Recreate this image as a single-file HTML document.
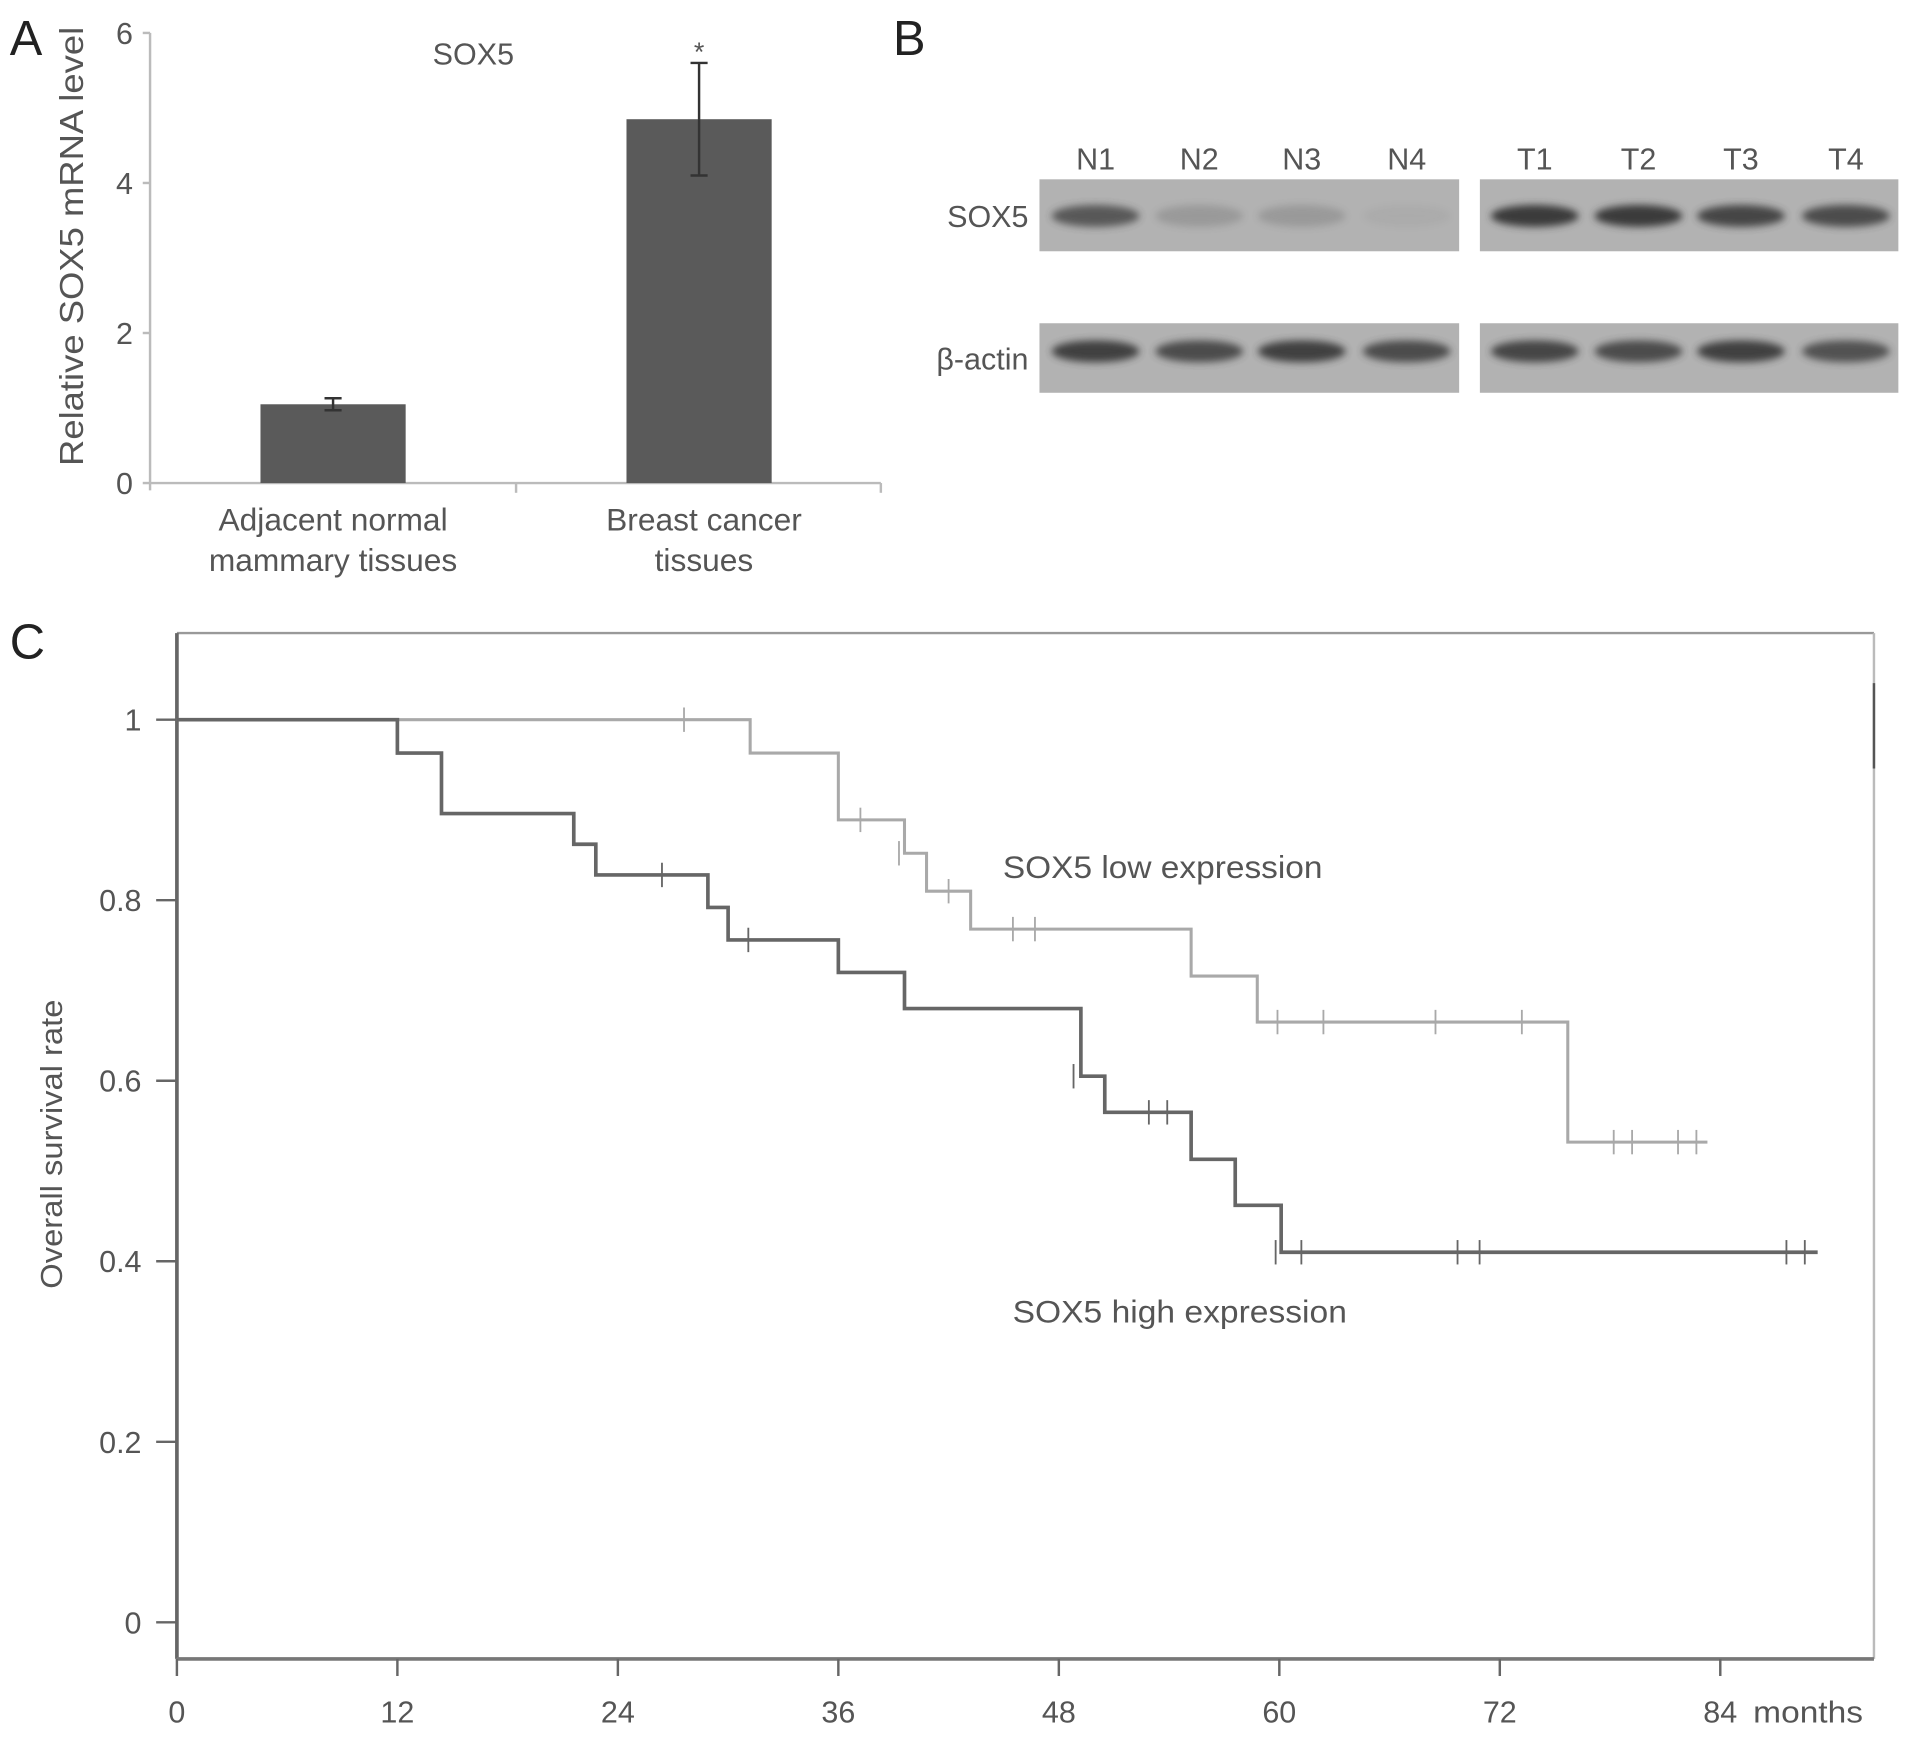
<!DOCTYPE html>
<html><head><meta charset="utf-8">
<style>
html,body{margin:0;padding:0;background:#fff;}
svg{display:block;}
text{font-family:"Liberation Sans",sans-serif;fill:#555;}
</style></head>
<body>
<svg id="fig" width="1913" height="1737" viewBox="0 0 1568 1424" preserveAspectRatio="none" xmlns="http://www.w3.org/2000/svg">
<defs>
<filter id="blur" x="-20%" y="-50%" width="140%" height="200%"><feGaussianBlur stdDeviation="3"/></filter>
</defs>
<g id="panelA"></g>
<g id="panelB"></g>
<g id="panelC"></g>
</svg>
<script>
// ---- Panel A data ----
const barCategories = [["Adjacent normal","mammary tissues"],["Breast cancer","tissues"]];
const barValues = [1.05, 4.85];
const barErrLow = [0.97, 4.1];
const barErrHigh = [1.13, 5.6];
const barYTicks = [0, 2, 4, 6];
// ---- Panel B data ----
const laneLabels = ["N1","N2","N3","N4","T1","T2","T3","T4"];
const sox5Intensity = [0.75, 0.2, 0.2, 0.05, 1, 1, 0.9, 0.85];
const actinIntensity = [0.95, 0.85, 0.95, 0.85, 0.9, 0.85, 0.95, 0.8];
// ---- Panel C data ----
const xTicks = [0, 12, 24, 36, 48, 60, 72, 84];
const yTicks = [0, 0.2, 0.4, 0.6, 0.8, 1];
const lowTimes = [0, 31.2, 36, 39.6, 40.8, 43.2, 55.2, 58.8, 75.7, 83.3];
const lowSurv  = [1, 0.963, 0.889, 0.852, 0.81, 0.768, 0.716, 0.665, 0.532, 0.532];
const lowCensT = [27.6, 37.2, 39.3, 42, 45.5, 46.7, 59.9, 62.4, 68.5, 73.2, 78.2, 79.2, 81.7, 82.7];
const lowCensS = [1, 0.889, 0.852, 0.81, 0.768, 0.768, 0.665, 0.665, 0.665, 0.665, 0.532, 0.532, 0.532, 0.532];
const highTimes = [0, 12, 14.4, 21.6, 22.8, 28.9, 30, 36, 39.6, 49.2, 50.5, 55.2, 57.6, 60.1, 89.3];
const highSurv  = [1, 0.963, 0.896, 0.862, 0.828, 0.792, 0.756, 0.72, 0.68, 0.605, 0.565, 0.513, 0.462, 0.41, 0.41];
const highCensT = [26.4, 31.1, 48.8, 52.9, 53.9, 59.8, 61.2, 69.7, 70.9, 87.6, 88.6];
const highCensS = [0.828, 0.756, 0.605, 0.565, 0.565, 0.41, 0.41, 0.41, 0.41, 0.41, 0.41];

const NS = "http://www.w3.org/2000/svg";
function mk(parent, tag, attrs, txt){
  const e = document.createElementNS(NS, tag);
  for (const k in attrs) e.setAttribute(k, attrs[k]);
  if (txt !== undefined) e.textContent = txt;
  parent.appendChild(e);
  return e;
}

// ===== Panel A =====
(function(){
  const g = document.getElementById('panelA');
  const x0 = 123, x1 = 722, yb = 396, yt = 27;
  const yA = v => yb - (v/6)*(yb-yt);
  let t = mk(g,'text',{x:8,y:45,'font-size':40,style:'fill:#222'},'A');
   
  let l = mk(g,'line',{x1:x0,y1:yt,x2:x0,y2:yb+6,stroke:'#bbb','stroke-width':2});
   
  l = mk(g,'line',{x1:x0,y1:yb,x2:x1,y2:yb,stroke:'#bbb','stroke-width':2});
   
  mk(g,'line',{x1:423,y1:yb,x2:423,y2:yb+8,stroke:'#bbb','stroke-width':2});
  mk(g,'line',{x1:x1,y1:yb,x2:x1,y2:yb+8,stroke:'#bbb','stroke-width':2});
  barYTicks.forEach(v=>{
    mk(g,'line',{x1:x0-6,y1:yA(v),x2:x0,y2:yA(v),stroke:'#bbb','stroke-width':2});
    const tt = mk(g,'text',{x:x0-14,y:yA(v)+9,'font-size':25,'text-anchor':'end'},String(v));
     
  });
  t = mk(g,'text',{x:0,y:0,'font-size':27,'text-anchor':'middle',textLength:360,lengthAdjust:'spacingAndGlyphs',transform:'translate(68,202) rotate(-90)'},'Relative SOX5 mRNA level');
   
  t = mk(g,'text',{x:388,y:53,'font-size':25,'text-anchor':'middle'},'SOX5');
   
  const centers = [273, 573], bw = 119;
  barValues.forEach((v,i)=>{
    const r = mk(g,'rect',{x:centers[i]-bw/2,y:yA(v),width:bw,height:yb-yA(v),fill:'#5a5a5a'});
     
    const e = mk(g,'path',{d:`M${centers[i]-7},${yA(barErrHigh[i])}H${centers[i]+7}M${centers[i]},${yA(barErrHigh[i])}V${yA(barErrLow[i])}M${centers[i]-7},${yA(barErrLow[i])}H${centers[i]+7}`,stroke:'#333','stroke-width':2,fill:'none'});
     
    barCategories[i].forEach((s,j)=>{
      const c = mk(g,'text',{x:centers[i]+(i?4:0),y:435+j*33,'font-size':26,'text-anchor':'middle'},s);
       
    });
  });
  t = mk(g,'text',{x:centers[1],y:50,'font-size':22,'text-anchor':'middle'},'*');
   
})();

// ===== Panel B =====
(function(){
  const g = document.getElementById('panelB');
  let t = mk(g,'text',{x:732,y:45,'font-size':40,style:'fill:#222'},'B');
   
  const boxes = [[852,1196],[1213,1556]];
  const rows = [[147,206,sox5Intensity],[265,322,actinIntensity]];
  const laneX = [898,983,1067,1153,1258,1343,1427,1513];
  rows.forEach((r,ri)=>{
    boxes.forEach(b=>{
      const bx = mk(g,'rect',{x:b[0],y:r[0],width:b[1]-b[0],height:r[1]-r[0],fill:'#b2b2b2'});
       
    });
    r[2].forEach((v,i)=>{
      const cy = ri ? 288 : 177;
      const e = mk(g,'ellipse',{cx:laneX[i],cy:cy,rx:36,ry:9,fill:'#3a3a3a',opacity:v,filter:'url(#blur)'});
       
    });
  });
  laneLabels.forEach((s,i)=>{
    const tt = mk(g,'text',{x:laneX[i],y:139,'font-size':25,'text-anchor':'middle'},s);
     
  });
  t = mk(g,'text',{x:843,y:186,'font-size':25,'text-anchor':'end'},'SOX5');
   
  t = mk(g,'text',{x:843,y:303,'font-size':25,'text-anchor':'end'},'β-actin');
   
})();

// ===== Panel C =====
(function(){
  const g = document.getElementById('panelC');
  const X = m => 145 + m*15.06;
  const Y = s => 1330 - s*740;
  let t = mk(g,'text',{x:8,y:540,'font-size':40,style:'fill:#222'},'C');
   
  mk(g,'line',{x1:145,y1:519,x2:1536,y2:519,stroke:'#999','stroke-width':2});
  mk(g,'line',{x1:1536,y1:519,x2:1536,y2:1360,stroke:'#bbb','stroke-width':2});
  mk(g,'line',{x1:1536,y1:560,x2:1536,y2:630,stroke:'#555','stroke-width':2});
  let a = mk(g,'line',{x1:145,y1:519,x2:145,y2:1360,stroke:'#666','stroke-width':3});
   
  a = mk(g,'line',{x1:145,y1:1360,x2:1536,y2:1360,stroke:'#777','stroke-width':3});
   
  yTicks.forEach(v=>{
    mk(g,'line',{x1:128,y1:Y(v),x2:145,y2:Y(v),stroke:'#666','stroke-width':2});
    const tt = mk(g,'text',{x:116,y:Y(v)+9,'font-size':25,'text-anchor':'end'},String(v));
     
  });
  xTicks.forEach(v=>{
    mk(g,'line',{x1:X(v),y1:1360,x2:X(v),y2:1374,stroke:'#666','stroke-width':2});
    const tt = mk(g,'text',{x:X(v),y:1412,'font-size':25,'text-anchor':'middle'},String(v));
     
  });
  t = mk(g,'text',{x:1437,y:1412,'font-size':25,textLength:90,lengthAdjust:'spacingAndGlyphs'},'months');
   
  t = mk(g,'text',{x:0,y:0,'font-size':25,'text-anchor':'middle',textLength:237,lengthAdjust:'spacingAndGlyphs',transform:'translate(51,938) rotate(-90)'},'Overall survival rate');
   
  function curve(times, surv, cT, cS, color, w, name){
    let d = `M${X(times[0])},${Y(surv[0])}`;
    for (let i=1;i<times.length;i++){ d += `H${X(times[i])}V${Y(surv[i])}`; }
    const p = mk(g,'path',{d:d,fill:'none',stroke:color,'stroke-width':w});
     
    cT.forEach((c,i)=>{
      const m = mk(g,'line',{x1:X(c),y1:Y(cS[i])-10,x2:X(c),y2:Y(cS[i])+10,stroke:color,'stroke-width':1.5});
       
    });
  }
  curve(lowTimes, lowSurv, lowCensT, lowCensS, '#a9a9a9', 2.5, 'low-expression-curve');
  curve(highTimes, highSurv, highCensT, highCensS, '#666', 3, 'high-expression-curve');
  t = mk(g,'text',{x:822,y:720,'font-size':26,textLength:262,lengthAdjust:'spacingAndGlyphs'},'SOX5 low expression');
   
  t = mk(g,'text',{x:830,y:1084,'font-size':26,textLength:274,lengthAdjust:'spacingAndGlyphs'},'SOX5 high expression');
   
})();
</script>
</body></html>
